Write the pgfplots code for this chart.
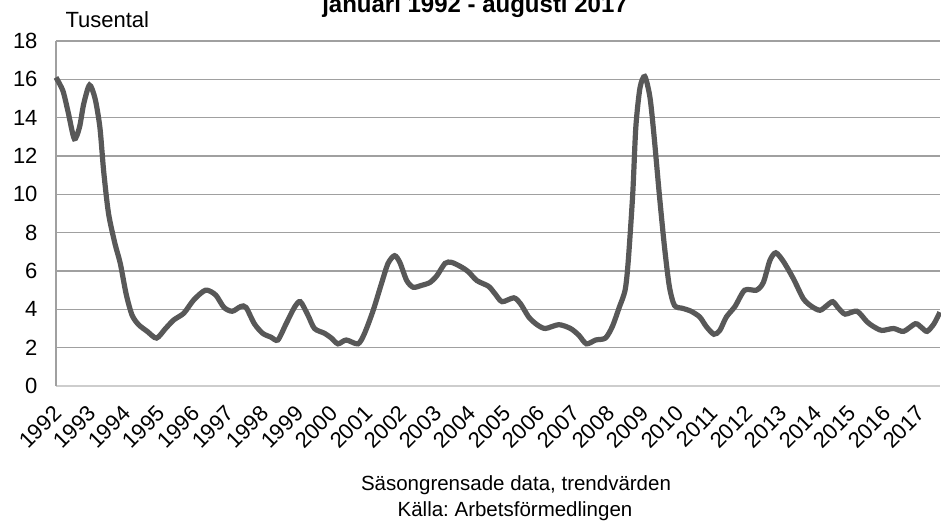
\documentclass[border=0pt]{standalone}
\usepackage{fontspec}
\setmainfont{Liberation Sans}
\usepackage{pgfplots}
\pgfplotsset{compat=1.18}
\definecolor{linegray}{RGB}{88,88,88}
\definecolor{gridgray}{RGB}{160,160,160}
\definecolor{yaxisgray}{RGB}{160,160,160}
\definecolor{xaxisgray}{RGB}{205,205,205}
\frenchspacing

\begin{document}
\begin{tikzpicture}
\begin{axis}[
  scale only axis,
  width=884bp, height=345bp,
  xmin=1992, xmax=2017.583,
  ymin=0, ymax=18,
  enlargelimits=false,
  ytick={0,2,...,18},
  xtick={1992,...,2017},
  /pgf/number format/1000 sep={},
  /pgf/number format/assume math mode=true,
  tick label style={font=\fontsize{22bp}{26bp}\selectfont},
  xticklabel style={xshift=7bp, yshift=-29bp, rotate=45, anchor=base east, inner sep=0bp},
  yticklabel style={xshift=-15bp},
  major tick length=0pt,
  axis x line*=bottom,
  axis y line*=left,
  x axis line style={draw=xaxisgray, line width=1.8bp},
  y axis line style={draw=yaxisgray, line width=1.6bp},
  ymajorgrids,
  grid style={draw=gridgray, line width=1.4bp},
  clip=false,
]
\addplot[linegray, line width=5.2bp, smooth, tension=0.45] coordinates {
(1992.00,16.1) (1992.20,15.4) (1992.35,14.3) (1992.53,12.9) (1992.68,13.5)
(1992.80,14.7) (1992.97,15.7) (1993.13,15.0) (1993.27,13.5) (1993.38,11.2)
(1993.52,9.0) (1993.71,7.4) (1993.86,6.4) (1994.03,4.8) (1994.20,3.7)
(1994.39,3.2) (1994.64,2.85) (1994.91,2.5) (1995.17,3.0) (1995.41,3.45)
(1995.70,3.8) (1995.99,4.5) (1996.33,5.0) (1996.62,4.75) (1996.86,4.1)
(1997.10,3.9) (1997.35,4.15) (1997.50,4.1) (1997.74,3.25) (1997.98,2.75)
(1998.22,2.55) (1998.42,2.4) (1998.66,3.25) (1998.90,4.1) (1999.07,4.4)
(1999.29,3.7) (1999.48,3.0) (1999.77,2.75) (1999.97,2.5) (2000.16,2.2)
(2000.40,2.4) (2000.74,2.2) (2000.93,2.75) (2001.18,3.95) (2001.42,5.35)
(2001.61,6.4) (2001.80,6.8) (2001.95,6.45) (2002.15,5.5) (2002.34,5.15)
(2002.58,5.25) (2002.82,5.4) (2003.02,5.75) (2003.26,6.4) (2003.45,6.45)
(2003.74,6.2) (2003.94,5.95) (2004.18,5.5) (2004.52,5.2) (2004.71,4.8)
(2004.91,4.4) (2005.25,4.6) (2005.44,4.3) (2005.68,3.6) (2005.92,3.2)
(2006.16,3.0) (2006.55,3.2) (2006.89,3.0) (2007.13,2.65) (2007.35,2.2)
(2007.62,2.4) (2007.90,2.5) (2008.10,3.1) (2008.30,4.1) (2008.47,5.0)
(2008.56,6.5) (2008.69,10.0) (2008.78,13.5) (2008.90,15.55) (2009.04,16.15)
(2009.19,15.05) (2009.31,13.0) (2009.46,10.0) (2009.61,7.25) (2009.75,5.2)
(2009.90,4.2) (2010.14,4.05) (2010.38,3.9) (2010.63,3.6) (2010.82,3.1)
(2011.04,2.7) (2011.21,2.9) (2011.40,3.6) (2011.65,4.15) (2011.93,5.0)
(2012.27,5.0) (2012.47,5.4) (2012.66,6.55) (2012.83,6.95) (2013.05,6.5)
(2013.34,5.6) (2013.63,4.55) (2013.87,4.15) (2014.11,3.95) (2014.31,4.2)
(2014.48,4.4) (2014.65,4.05) (2014.84,3.75) (2015.18,3.9) (2015.47,3.35)
(2015.66,3.1) (2015.90,2.9) (2016.24,3.0) (2016.53,2.85) (2016.87,3.25)
(2017.05,3.05) (2017.21,2.85) (2017.41,3.25) (2017.58,3.85)
};
\end{axis}
\begin{scope}[shift={(current axis.south west)}]
\node[anchor=base, font=\fontsize{24bp}{28bp}\selectfont\bfseries] at (419bp,373bp) {januari 1992 - augusti 2017};
\node[anchor=base west, font=\fontsize{22bp}{26bp}\selectfont] at (6bp,358bp) {Tusental};
\node[anchor=base, font=\fontsize{20.5bp}{24bp}\selectfont] at (460bp,-104bp) {Säsongrensade data, trendvärden};
\node[anchor=base, font=\fontsize{20.5bp}{24bp}\selectfont] at (459bp,-130bp) {Källa: Arbetsförmedlingen};
\pgfresetboundingbox
\useasboundingbox (-56bp,-136bp) rectangle (885bp,386bp);
\end{scope}
\end{tikzpicture}
\end{document}
